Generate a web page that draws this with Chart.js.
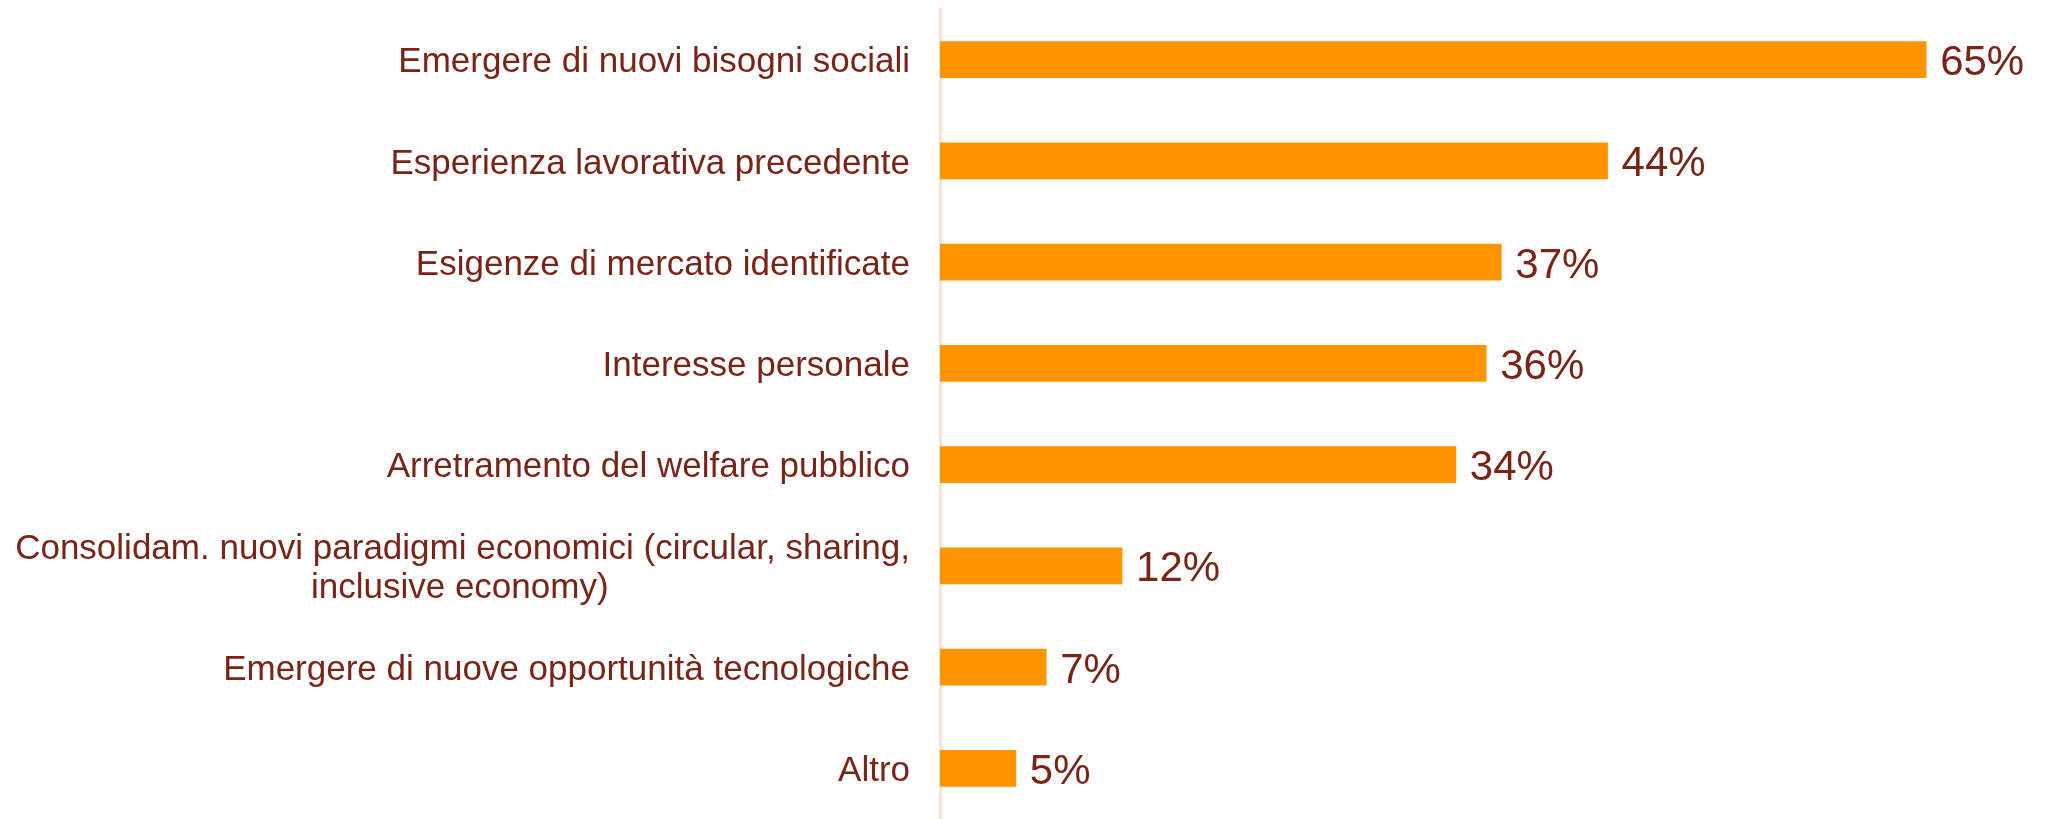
<!DOCTYPE html>
<html>
<head>
  <title>Motivazioni</title>
  <script src="https://cdn.jsdelivr.net/npm/chart.js"></script>
  <style>
    html, body { margin: 0; padding: 0; background: #fff; }
    #wrap { width: 2048px; height: 819px; }
  </style>
</head>
<body>
  <div id="wrap"><canvas id="barChart" width="2048" height="819"></canvas></div>

  <script>
    const pad = '\u00a0'.repeat(31); // centres the 2nd line under the 1st
    const categories = [
      'Emergere di nuovi bisogni sociali',
      'Esperienza lavorativa precedente',
      'Esigenze di mercato identificate',
      'Interesse personale',
      'Arretramento del welfare pubblico',
      ['Consolidam. nuovi paradigmi economici (circular, sharing,', 'inclusive economy)' + pad],
      'Emergere di nuove opportunità tecnologiche',
      'Altro'
    ];
    const values = [65, 44, 37, 36, 34, 12, 7, 5];

    const textColor = '#7a2317';
    const barColor = '#ff9400';
    const fontFamily = '"Liberation Sans", Arial, sans-serif';

    // draws "NN%" just right of each bar
    const valueLabels = {
      id: 'valueLabels',
      afterDatasetsDraw(chart) {
        const ctx = chart.ctx;
        const meta = chart.getDatasetMeta(0);
        ctx.save();
        ctx.fillStyle = textColor;
        ctx.font = '42px ' + fontFamily;
        ctx.textAlign = 'left';
        ctx.textBaseline = 'middle';
        meta.data.forEach((bar, i) => {
          ctx.fillText(values[i] + '%', bar.x + 14, bar.y + 4);
        });
        ctx.restore();
      }
    };

    new Chart(document.getElementById('barChart').getContext('2d'), {
      type: 'bar',
      data: {
        labels: categories,
        datasets: [{
          data: values,
          backgroundColor: barColor,
          barThickness: 36
        }]
      },
      options: {
        indexAxis: 'y',
        responsive: false,
        animation: false,
        layout: { padding: { top: 9, right: 46, bottom: 0, left: 0 } },
        plugins: { legend: { display: false }, tooltip: { enabled: false } },
        scales: {
          x: { display: false, min: 0, max: 70 },
          y: {
            afterFit(scale) {
              scale.width = 940;
              scale.paddingTop = 0;
              scale.paddingBottom = 0;
            },
            grid: { display: false, drawTicks: false },
            border: { display: true, color: '#fae3d6', width: 3 },
            ticks: {
              color: textColor,
              padding: 30,
              labelOffset: 3,
              font: { family: fontFamily, size: 35, lineHeight: 1.12 }
            }
          }
        }
      },
      plugins: [valueLabels]
    });
  </script>
</body>
</html>
